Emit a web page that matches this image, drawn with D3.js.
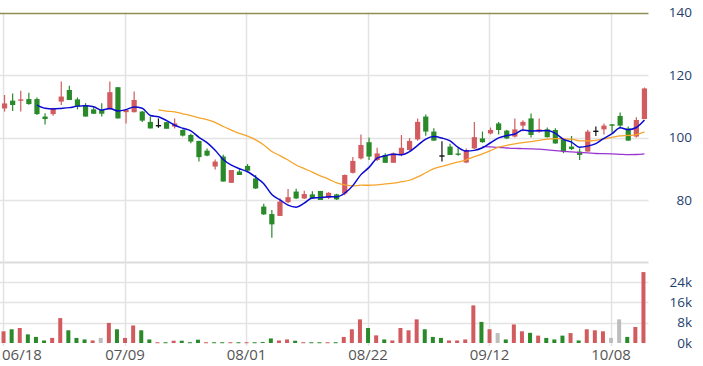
<!DOCTYPE html>
<html>
<head>
<meta charset="utf-8">
<script src="https://cdn.jsdelivr.net/npm/d3@7"></script>
<style>
  html, body { margin: 0; padding: 0; background: #fff; }
  svg { display: block; }
  text { font-family: "Open Sans", sans-serif; }
</style>
</head>
<body>
<svg id="chart" width="703" height="366"></svg>
<script>
const dates = ["06/18","06/19","06/20","06/21","06/22","06/25","06/26","06/27","06/28","06/29",
  "07/02","07/03","07/04","07/05","07/06","07/09","07/10","07/11","07/12","07/13",
  "07/16","07/18","07/19","07/20","07/23","07/24","07/25","07/26","07/27","07/30",
  "08/01","08/02","08/03","08/06","08/07","08/08","08/09","08/10","08/13","08/14",
  "08/15","08/16","08/17","08/20","08/21","08/22","08/23","08/24","08/27","08/28",
  "08/29","08/30","08/31","09/03","09/04","09/05","09/06","09/07","09/10","09/11",
  "09/12","09/13","09/14","09/17","09/18","09/19","09/20","09/21","09/26","09/27",
  "09/28","10/01","10/02","10/04","10/05","10/08","10/10","10/11","10/12","10/15"];

const opens = [109.3,111.8,111.8,112.3,112.3,106.7,107.5,111.5,115.2,112.2,
  110.4,109.0,108.8,109.0,116.1,108.1,108.1,108.3,105.0,104.0,
  104.9,103.5,102.4,100.8,98.9,95.8,90.7,93.9,85.5,89.1,
  90.9,86.9,77.9,75.5,74.9,79.3,82.7,80.5,81.8,82.9,
  80.7,81.8,82.1,88.7,93.3,98.5,92.8,94.4,91.9,94.4,
  96.0,99.4,106.7,101.9,94.3,97.1,94.9,92.0,96.5,99.7,
  101.3,104.5,102.2,100.3,103.8,106.1,101.9,102.6,102.4,99.4,
  97.1,95.5,95.5,102.2,102.6,104.2,106.9,102.9,100.3,105.9];
const highs = [113.6,114.1,115.0,114.3,112.8,107.8,109.5,117.9,116.6,112.8,
  111.0,109.7,111.0,117.9,116.1,109.0,114.7,108.5,106.7,106.1,
  105.0,106.1,102.6,101.2,99.0,96.5,93.0,94.5,89.6,89.8,
  91.5,88.0,78.8,76.8,80.6,83.5,83.6,83.0,82.8,82.9,
  82.5,82.0,88.2,93.8,101.0,100.0,96.7,95.0,95.2,100.8,
  99.8,106.1,107.4,103.0,98.8,98.0,96.7,96.5,105.0,101.9,
  103.2,105.0,102.5,106.1,105.5,107.7,106.1,103.2,103.0,99.8,
  100.5,96.5,102.5,103.5,104.5,104.3,108.0,103.5,106.5,116.0];
const lows = [108.3,108.5,108.3,110.5,107.2,104.2,107.0,110.4,112.0,109.0,
  106.7,107.5,106.7,109.0,106.1,104.5,108.0,105.0,102.9,103.1,
  102.8,102.9,100.3,98.2,92.3,94.0,89.8,85.9,85.5,88.0,
  89.0,83.5,75.2,67.9,74.9,79.0,80.3,80.3,80.3,80.0,
  80.3,80.0,81.5,88.5,93.0,92.8,92.5,91.9,91.9,94.0,
  95.8,99.0,100.6,99.0,92.3,94.4,94.2,91.8,96.3,98.3,
  101.0,101.0,99.5,100.0,102.0,100.0,101.5,100.0,98.0,95.0,
  96.0,92.8,95.5,100.5,101.0,101.5,103.0,99.0,100.0,105.9];
const closes = [110.9,110.4,112.2,110.7,107.5,105.9,109.3,113.1,112.0,109.9,
  106.7,107.6,107.6,114.5,106.1,108.8,112.0,105.4,102.9,104.0,
  102.8,104.5,100.6,98.7,93.7,94.2,92.3,85.9,89.6,88.0,
  89.4,83.7,75.4,72.2,79.5,80.9,80.5,81.9,80.5,80.0,
  82.3,80.2,88.0,92.5,97.6,93.9,94.9,91.9,94.9,96.7,
  98.9,105.0,101.9,99.0,94.3,94.4,94.6,96.0,100.1,98.5,
  102.4,102.4,99.7,102.6,105.0,100.8,102.6,100.1,98.1,95.5,
  96.3,94.4,101.9,102.2,103.8,103.8,103.8,99.0,105.6,115.7];
// volume in thousands
const volumes = [4.6,5.4,5.9,3.4,2.4,1.0,2.0,9.8,5.0,2.0,
  1.4,1.0,2.0,7.9,5.4,2.0,6.9,5.0,1.4,0.3,
  0.3,0.9,0.9,0.3,1.3,0.3,0.3,0.3,0.3,0.3,
  0.3,0.3,0.4,1.8,1.0,1.4,0.9,0.3,0.3,0.3,
  0.3,0.3,2.4,5.4,9.3,5.9,3.0,1.4,1.0,5.9,
  5.0,9.3,5.4,2.4,2.0,1.0,1.0,1.4,14.8,8.3,
  5.4,3.9,1.4,7.3,4.6,4.0,2.9,2.0,1.4,2.9,
  3.9,1.0,5.4,5.0,4.6,2.0,9.3,2.4,6.3,27.9];

const priceTicks = [80, 100, 120, 140];
const volumeTicks = [0, 8, 16, 24];
const volumeTickLabels = ["0k", "8k", "16k", "24k"];
const dateTicks = ["06/18","07/09","08/01","08/22","09/12","10/08"];
const maPeriods = [5, 20, 60];

// ---------- build ----------
const UP = "#d15b5e", DOWN = "#2a8a2a", FLAT = "#111", GRAY = "#bdbdbd";
const MA_COLORS = {5: "#0a0ad2", 20: "#f5a42c", 60: "#9b35d0"};

const svg = d3.select("#chart");
const plotRight = 648.5;

const x = d3.scaleBand().domain(dates).range([0.5, plotRight]).padding(0);
const cx = d => x(d) + x.bandwidth() / 2;
const yP = d3.scaleLinear().domain([80, 140]).range([200, 12.5]);
const yV = d3.scaleLinear().domain([0, 24]).range([343, 282]);

const data = dates.map((d, i) => ({
  date: d, o: opens[i], h: highs[i], l: lows[i], c: closes[i], v: volumes[i],
  prev: i > 0 ? closes[i - 1] : null
}));

// grid: horizontal price
const g = svg.append("g");
g.selectAll("line.hp").data(priceTicks.filter(t => t !== 140)).enter().append("line")
  .attr("x1", 0).attr("x2", plotRight)
  .attr("y1", d => Math.round(yP(d)) + 0.5).attr("y2", d => Math.round(yP(d)) + 0.5)
  .attr("stroke", "#e4e4e4").attr("stroke-width", 1.5);
// volume grid
g.selectAll("line.hv").data(volumeTicks.filter(t => t > 0)).enter().append("line")
  .attr("x1", 0).attr("x2", plotRight)
  .attr("y1", d => Math.round(yV(d)) + 0.5).attr("y2", d => Math.round(yV(d)) + 0.5)
  .attr("stroke", "#e4e4e4").attr("stroke-width", 1.5);
// volume panel top border
g.append("line").attr("x1", 0).attr("x2", plotRight).attr("y1", 262.5).attr("y2", 262.5)
  .attr("stroke", "#dcdcdc").attr("stroke-width", 2);
// vertical grid
g.selectAll("line.v").data(dateTicks).enter().append("line")
  .attr("x1", d => Math.floor(cx(d)) - 0.5).attr("x2", d => Math.floor(cx(d)) - 0.5)
  .attr("y1", 12.5).attr("y2", 346)
  .attr("stroke", "#e2e2e2").attr("stroke-width", 1.5);
// top line (140)
g.append("line").attr("x1", 0).attr("x2", plotRight)
  .attr("y1", Math.round(yP(140)) + 0.5).attr("y2", Math.round(yP(140)) + 0.5)
  .attr("stroke", "#8f8f55").attr("stroke-width", 1.3);

// volume bars
const volColor = d => d.prev === null ? UP : (d.c > d.prev ? UP : (d.c < d.prev ? DOWN : GRAY));
svg.append("g").selectAll("rect").data(data).enter().append("rect")
  .attr("x", d => cx(d.date) - 3)
  .attr("width", 4)
  .attr("y", d => yV(d.v))
  .attr("height", d => Math.max(1, yV(0) - yV(d.v)))
  .attr("fill", volColor);

// candles
const candleColor = d => d.c > d.o ? UP : (d.c < d.o ? DOWN : FLAT);
const cg = svg.append("g").selectAll("g").data(data).enter().append("g");
cg.append("line")
  .attr("x1", d => cx(d.date)).attr("x2", d => cx(d.date))
  .attr("y1", d => yP(d.h)).attr("y2", d => yP(d.l))
  .attr("stroke", candleColor).attr("stroke-width", 1.2);
cg.append("rect")
  .attr("x", d => cx(d.date) - 2.6)
  .attr("width", 5.2)
  .attr("y", d => yP(Math.max(d.o, d.c)))
  .attr("height", d => Math.max(1.4, Math.abs(yP(d.o) - yP(d.c))))
  .attr("fill", candleColor);

// moving averages (computed from closes)
function movingAverage(n) {
  const out = [];
  for (let i = n - 1; i < closes.length; i++) {
    out.push({date: dates[i], v: d3.mean(closes.slice(i - n + 1, i + 1))});
  }
  return out;
}
const line = d3.line().x(d => cx(d.date)).y(d => yP(d.v)).curve(d3.curveMonotoneX);
[60, 20, 5].forEach(n => {
  svg.append("path").datum(movingAverage(n))
    .attr("d", line).attr("fill", "none")
    .attr("stroke", MA_COLORS[n]).attr("stroke-width", n === 5 ? 1.5 : 1.3);
});

// right price axis
const axisColor = "#1f3f6e";
const FONT = "'Open Sans', sans-serif";
const pAxis = svg.append("g").attr("transform", `translate(${plotRight},0)`)
  .call(d3.axisRight(yP).tickValues(priceTicks).tickSize(0).tickPadding(0));
pAxis.select(".domain").remove();
pAxis.selectAll("text").attr("x", 43.5).attr("text-anchor", "end")
  .attr("fill", axisColor).style("font-size", "13.5px").style("font-family", FONT);

const vAxis = svg.append("g").attr("transform", `translate(${plotRight},0)`)
  .call(d3.axisRight(yV).tickValues(volumeTicks).tickSize(0).tickPadding(0)
    .tickFormat((d, i) => volumeTickLabels[i]));
vAxis.select(".domain").remove();
vAxis.selectAll("text").attr("x", 43.5).attr("text-anchor", "end")
  .attr("fill", axisColor).style("font-size", "13.5px").style("font-family", FONT);

// date axis
const xAxis = svg.append("g").attr("transform", "translate(0,346)")
  .call(d3.axisBottom(x).tickValues(dateTicks).tickSize(0).tickPadding(0));
xAxis.select(".domain").remove();
xAxis.selectAll("text").attr("y", 14).attr("dy", 0)
  .attr("fill", "#555").style("font-size", "15px").style("font-family", FONT)
  .attr("dx", -1);
xAxis.selectAll(".tick").filter(d => d === dateTicks[0]).select("text")
  .attr("text-anchor", "start").attr("dx", 0).attr("x", 2 - cx(dateTicks[0]));
</script>
</body>
</html>
